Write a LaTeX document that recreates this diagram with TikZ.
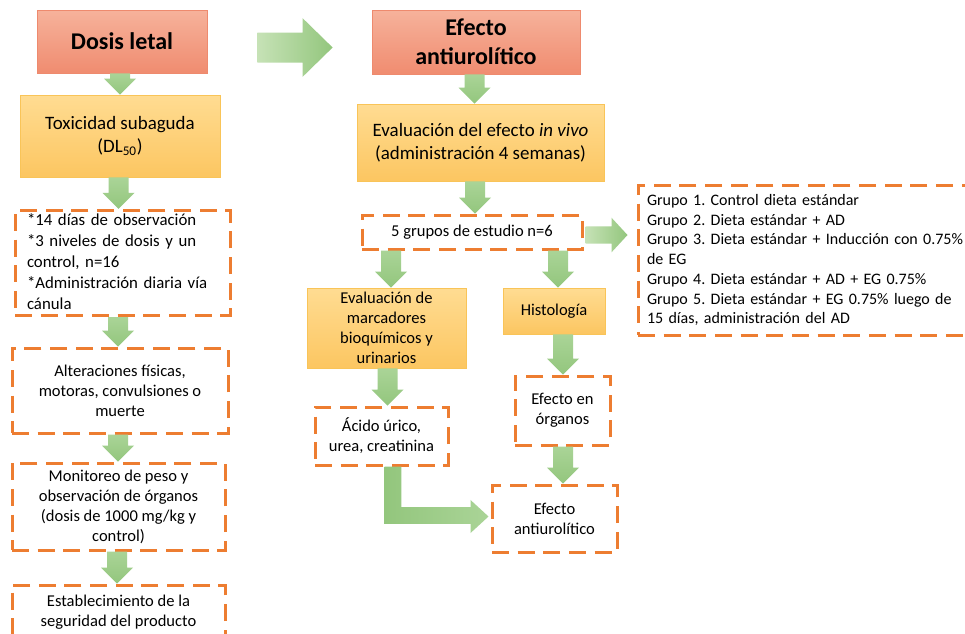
\documentclass[tikz,border=0pt]{standalone}
\usepackage{fontspec}
\setmainfont{Carlito}
\usetikzlibrary{calc}
\definecolor{salT}{HTML}{F6B29B}
\definecolor{salB}{HTML}{F08C70}
\definecolor{salD}{HTML}{EE8A6E}
\definecolor{yelT}{HTML}{FFDC92}
\definecolor{yelB}{HTML}{FCC661}
\definecolor{yelD}{HTML}{F9C458}
\definecolor{orD}{HTML}{ED7D31}
\definecolor{grL}{HTML}{C6E2B6}
\definecolor{grD}{HTML}{93C67D}
\definecolor{grT}{HTML}{AAD497}
\tikzset{
 sz/.style 2 args={minimum width=#1*0.75pt, minimum height=#2*0.75pt},
 titlebox/.style={draw=salD, line width=0.6pt, top color=salT, bottom color=salB, inner sep=0pt, align=center, font=\fontsize{18}{21.8}\selectfont\bfseries},
 ybox/.style={draw=yelD, line width=0.6pt, top color=yelT, bottom color=yelB, inner sep=0pt, align=center},
 dbox/.style={draw=orD, line width=2.25pt, dash pattern=on 12.75pt off 6.5pt, inner sep=0pt, align=center, fill=white},
 bigtxt/.style={font=\fontsize{14.2}{17.25}\selectfont},
 midtxt/.style={font=\fontsize{12.4}{15}\selectfont},
 grptxt/.style={font=\fontsize{12.0}{14.8}\selectfont},
 lefttxt/.style={font=\fontsize{12.6}{15.8}\selectfont},
 garrow/.style={top color=grT, bottom color=grD, draw=none},
 harrow/.style={left color=grL, right color=grD, draw=none},
}
\newcommand\varrow[3]{%
 \shade[garrow] let \p1=(#1.south), \p2=(#2.north) in
 ({#3*0.75pt-7.5pt},\y1) -- ({#3*0.75pt+7.5pt},\y1) -- ({#3*0.75pt+7.5pt},\y2+12pt) --
 ({#3*0.75pt+12pt},\y2+12pt) -- ({#3*0.75pt},\y2) -- ({#3*0.75pt-12pt},\y2+12pt) --
 ({#3*0.75pt-7.5pt},\y2+12pt) -- cycle;}
\begin{document}
\frenchspacing
\begin{tikzpicture}[x=0.75pt,y=-0.75pt]
\useasboundingbox (0,0) rectangle (965,633);
\fill[white] (0,0) rectangle (965,633);
\clip (0,0) rectangle (965,633);

% left column
\node[titlebox, sz={170}{63}] (dosis) at (122,41.5) {Dosis letal};
\node[ybox, bigtxt, sz={200}{82}] (tox) at (120,136) {Toxicidad subaguda\\(DL\textsubscript{50})};
\node[dbox, lefttxt, align=left, text width=191*0.75pt, inner xsep=12*0.75pt, minimum height=100*0.75pt] (b1) at (122.5,263)
 {\begin{tabular}{@{}l@{}}{*}14 días de observación\\{*}3 niveles de dosis y un\\control, n=16\\{*}Administración diaria vía\\cánula\end{tabular}};
\node[dbox, midtxt, sz={216}{85}] (b2) at (120,390.5) {Alteraciones físicas,\\motoras, convulsiones o\\muerte};
\node[dbox, midtxt, sz={213}{87}] (b3) at (118.5,506.5) {Monitoreo de peso y\\observación de órganos\\(dosis de 1000 mg/kg y\\control)};
\node[dbox, midtxt, sz={213}{54}] (b4) at (118.5,612) {Establecimiento de la\\seguridad del producto};

% right part
\node[titlebox, sz={208}{64}] (efecto) at (476,42) {Efecto\\antiurolítico};
\node[ybox, bigtxt, sz={247}{77}] (eval) at (480.5,142.5) {Evaluación del efecto \textit{in vivo}\\(administración 4 semanas)};
\node[dbox, midtxt, sz={220}{34}] (g5) at (472,232) {5 grupos de estudio n=6};
\node[dbox, grptxt, align=left, text width=334*0.75pt, inner xsep=9*0.75pt, minimum height=150*0.75pt] (groups) at (814,260)
 {Grupo 1. Control dieta estándar\\Grupo 2. Dieta estándar + AD\\Grupo 3. Dieta estándar + Inducción con 0.75\%\\de EG\\Grupo 4. Dieta estándar + AD + EG 0.75\%\\Grupo 5. Dieta estándar + EG 0.75\% luego de\\15 días, administración del AD};
\node[ybox, midtxt, sz={159}{80}] (marc) at (386.5,328) {Evaluación de\\marcadores\\bioquímicos y\\urinarios};
\node[ybox, midtxt, sz={102}{46}] (hist) at (554,311) {Histología};
\node[dbox, midtxt, sz={95}{69}] (org) at (562.5,410.5) {Efecto en\\órganos};
\node[dbox, midtxt, sz={125}{67}] (efbot) at (554.5,518.5) {Efecto\\antiurolítico};
\node[dbox, midtxt, sz={133}{58}] (acido) at (381.5,436) {Ácido úrico,\\urea, creatinina};

% vertical arrows
\varrow{dosis}{tox}{120}
\varrow{tox}{b1}{118.5}
\varrow{b1}{b2}{118}
\varrow{b2}{b3}{118}
\varrow{b3}{b4}{117}
\varrow{efecto}{eval}{474.5}
\varrow{eval}{g5}{475}
\varrow{g5}{marc}{391}
\varrow{g5}{hist}{558}
\varrow{hist}{org}{563}
\varrow{org}{efbot}{563}
\varrow{marc}{acido}{387.5}

% big arrow between the two titles
\shade[harrow] let \p1=(dosis.east), \p2=(efecto.west) in
 (\x1+37.5pt,\y1-4.5pt+11.25pt) -- (\x2-51.75pt,\y1-4.5pt+11.25pt) -- (\x2-51.75pt,\y1-4.5pt+22pt) --
 (\x2-29.25pt,\y1-4.5pt) -- (\x2-51.75pt,\y1-4.5pt-22pt) -- (\x2-51.75pt,\y1-4.5pt-11.25pt) --
 (\x1+37.5pt,\y1-4.5pt-11.25pt) -- cycle;

% arrow to the groups list
\shade[harrow] let \p1=(g5.east), \p2=(groups.west) in
 (\x1+1.5pt,\y1-2.25pt+6.4pt) -- (\x2-18.75pt,\y1-2.25pt+6.4pt) -- (\x2-18.75pt,\y1-2.25pt+13pt) --
 (\x2-6.75pt,\y1-2.25pt) -- (\x2-18.75pt,\y1-2.25pt-13pt) -- (\x2-18.75pt,\y1-2.25pt-6.4pt) --
 (\x1+1.5pt,\y1-2.25pt-6.4pt) -- cycle;

% L-shaped arrow
\shade[left color=grD, right color=grT, draw=none] let \p1=(acido.south), \p2=(efbot.west) in
 (288.4pt,\y1) -- (301.1pt,\y1) -- (301.1pt,\y2+8.6pt) -- (\x2-15pt,\y2+8.6pt) -- (\x2-15pt,\y2+13.9pt) --
 (\x2-1.5pt,\y2+1.5pt) -- (\x2-15pt,\y2-10.9pt) -- (\x2-15pt,\y2-4.1pt) -- (288.4pt,\y2-4.1pt) -- cycle;
\end{tikzpicture}
\end{document}
